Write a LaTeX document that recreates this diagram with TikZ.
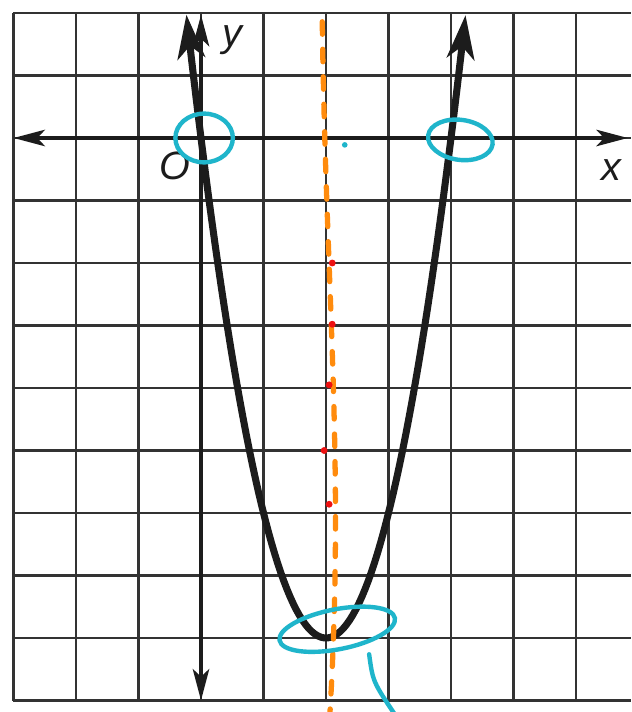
\documentclass[tikz,border=0pt]{standalone}
\usepackage{fontspec}
\newfontfamily\axisfont{Liberation Sans}
\usetikzlibrary{arrows.meta,calc}
\definecolor{gridink}{HTML}{333333}
\definecolor{curveink}{HTML}{1C1C1C}
\definecolor{cyanmark}{HTML}{1FB5CB}
\definecolor{orangemark}{HTML}{FF8B0D}
\definecolor{redmark}{HTML}{EE1111}
\tikzset{
  >={Stealth[length=5mm,width=2.6mm,inset=1.2mm]},
  gridline/.style={draw=gridink,line width=1.2pt},
  axis/.style={<->,draw=curveink,line width=2pt},
  curve/.style={<->,draw=curveink,line width=3.2pt,>={Stealth[length=7mm,width=4.4mm,inset=2mm]}},
  ring/.style={draw=cyanmark,line width=2pt,line cap=round},
  symline/.style={draw=orangemark,line width=2.4pt,line cap=round,dash pattern=on 2mm off 2.4mm},
  reddot/.style={circle,fill=redmark,inner sep=0pt,minimum size=1.1mm},
  axlabel/.style={font=\axisfont\itshape\fontsize{18}{18}\selectfont,inner sep=0pt,text=curveink},
}

\begin{document}
\begin{tikzpicture}
  \fill[white] (-3.216,-9.184) rectangle (6.88,2.208);
  \useasboundingbox (-3.216,-9.184) rectangle (6.88,2.208);
  \draw[gridline] (-3,-9) grid (6.88,2);

  \coordinate (xleft) at (-3,0);
  \coordinate (xright) at (6.83,0);
  \coordinate (ybot) at (0,-9);
  \coordinate (ytop) at (0,1.97);
  \draw[axis] (xleft) -- (xright);
  \draw[axis] (ybot) -- (ytop);

  \draw[curve] plot[domain=-0.233:4.233,samples=90] (\x,{2*\x*(\x-4)});

  \node[axlabel] (ylab) at (0.51,1.56) {y};
  \node[axlabel] (olab) at (-0.42,-0.45) {O};
  \node[axlabel] (xlab) at (6.56,-0.52) {x};

  \coordinate (symtop) at (1.94,1.86);
  \coordinate (symbot) at (2.06,-9.25);
  \draw[symline] (symtop) .. controls (2.0,-2.5) and (2.3,-5.2) .. (symbot);

  \foreach \px/\py [count=\i] in {2.1/-2,2.1/-2.98,2.05/-3.95,1.97/-5,2.05/-5.86}
    \node[reddot] (dot\i) at (\px,\py) {};

  \coordinate (rootl) at (0.05,0);
  \coordinate (rootr) at (4.15,-0.03);
  \coordinate (vtx) at (2.18,-7.86);
  \draw[ring] (rootl) ellipse [x radius=0.46,y radius=0.39];
  \draw[ring,rotate around={-8:(rootr)}] (rootr) ellipse [x radius=0.52,y radius=0.32];
  \draw[ring,rotate around={11:(vtx)}] (vtx) ellipse [x radius=0.94,y radius=0.32];
  \coordinate (tailstart) at (2.69,-8.26);
  \coordinate (tailend) at (3.12,-9.25);
  \draw[ring] (tailstart) .. controls (2.75,-8.7) .. (tailend);
  \fill[cyanmark] (2.3,-0.11) circle (0.045);
\end{tikzpicture}
\end{document}
